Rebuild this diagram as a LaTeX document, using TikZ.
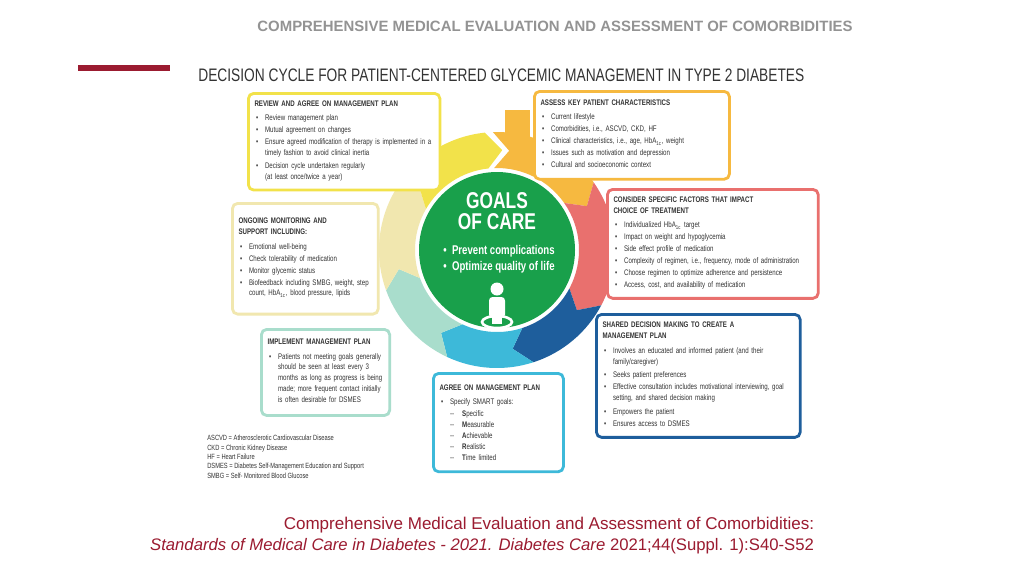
\documentclass[tikz,border=0pt]{standalone}
\usepackage{fontspec}
\setmainfont{Liberation Sans}
\newfontfamily\cond[FakeStretch=0.76]{Liberation Sans}
\definecolor{cyel}{HTML}{F2E24A}
\definecolor{corg}{HTML}{F6B940}
\definecolor{cred}{HTML}{E9706E}
\definecolor{cblu}{HTML}{1E5E9C}
\definecolor{ccya}{HTML}{3DB9D9}
\definecolor{cmin}{HTML}{A9DDCC}
\definecolor{cbei}{HTML}{F1E7AF}
\definecolor{cgrn}{HTML}{19A04B}
\definecolor{dred}{HTML}{9B1B30}
\definecolor{txt}{HTML}{333333}
\newcommand{\bi}[1]{\par\noindent\makebox[1.3em][l]{\hspace{0.2em}\textbullet}\parbox[t]{\dimexpr\linewidth-1.3em\relax}{\raggedright\strut #1\strut}\par\vspace{0.6pt}}
\newcommand{\di}[1]{\par\noindent\hspace{1.3em}\makebox[1.5em][l]{--}\textbf{#1}}
\newcommand{\seg}[3]{%
 \fill[#1] ([shift={(cc)}]#2:118) arc[start angle=#2,end angle=#3,radius=118]
  -- ([shift={(cc)}]#3+9:100) -- ([shift={(cc)}]#3:82)
  arc[start angle=#3,end angle=#2,radius=82] -- ([shift={(cc)}]#2+9:100) -- cycle;}
\begin{document}
\begin{tikzpicture}[x=0.02cm,y=-0.02cm,
  box/.style={draw=#1,line width=1.6pt,rounded corners=3pt,fill=white,anchor=north west,
    inner sep=3.5pt,align=left,font=\cond\fontsize{4.6}{6.2}\selectfont\color{txt}}]
\useasboundingbox (0,0) rectangle (1024,576);
\fill[white] (0,0) rectangle (1024,576);
\node[font=\bfseries\fontsize{8.5}{10}\selectfont,text=gray!85] (hdr) at (555,26) {COMPREHENSIVE MEDICAL EVALUATION AND ASSESSMENT OF COMORBIDITIES};
\fill[dred] (78,65) rectangle (170,71);
\node[anchor=west,font=\cond\fontsize{10.3}{12}\selectfont,text=txt,inner sep=0] (ttl) at (198,75) {DECISION CYCLE FOR PATIENT-CENTERED GLYCEMIC MANAGEMENT IN TYPE 2 DIABETES};
\coordinate (cc) at (497,250);
\fill[corg] (505,110) -- (530,110) -- (530,140) -- (505,140) -- cycle;
\seg{corg}{-92}{-35}
\seg{cred}{-35}{28}
\seg{cblu}{28}{72}
\seg{ccya}{72}{115}
\seg{cmin}{115}{160}
\seg{cbei}{160}{210}
\seg{cyel}{210}{264}
\fill[cgrn] (cc) circle (78);
\node[font=\cond\bfseries\fontsize{13}{12}\selectfont,text=white,align=center] (goals) at (497,211) {GOALS\\OF CARE};
\node[font=\cond\bfseries\fontsize{7.2}{9.2}\selectfont,text=white,align=left] (gl) at (499,259) {\textbullet\ \ Prevent complications\\\textbullet\ \ Optimize quality of life};
\fill[white] (497,289) circle (6.5);
\fill[white,rounded corners=2pt] (489,297) rectangle (505,318);
\draw[white,line width=1.5pt] (497,322) ellipse (15 and 6);
\fill[white] (492,315) rectangle (502,324);
\node[box=cyel,text width=102pt,minimum height=55pt] (rev) at (247,92) {\textbf{REVIEW AND AGREE ON MANAGEMENT PLAN}\par\vspace{2pt}
\bi{Review management plan}
\bi{Mutual agreement on changes}
\bi{Ensure agreed modification of therapy is implemented in a timely fashion to avoid clinical inertia}
\bi{Decision cycle undertaken regularly\\(at least once/twice a year)}};
\node[box=corg,text width=104pt,minimum height=50pt] (ass) at (533,90) {\textbf{ASSESS KEY PATIENT CHARACTERISTICS}\par\vspace{2pt}
\bi{Current lifestyle}
\bi{Comorbidities, i.e., ASCVD, CKD, HF}
\bi{Clinical characteristics, i.e., age, HbA\textsubscript{1c}, weight}
\bi{Issues such as motivation and depression}
\bi{Cultural and socioeconomic context}};
\node[box=cred,text width=113pt,minimum height=62pt] (con) at (606,188) {\textbf{CONSIDER SPECIFIC FACTORS THAT IMPACT\\CHOICE OF TREATMENT}\par\vspace{2pt}
\bi{Individualized HbA\textsubscript{1c} target}
\bi{Impact on weight and hypoglycemia}
\bi{Side effect profile of medication}
\bi{Complexity of regimen, i.e., frequency, mode of administration}
\bi{Choose regimen to optimize adherence and persistence}
\bi{Access, cost, and availability of medication}};
\node[box=cblu,text width=109pt,minimum height=70pt] (sha) at (595,313) {\textbf{SHARED DECISION MAKING TO CREATE A\\MANAGEMENT PLAN}\par\vspace{2pt}
\bi{Involves an educated and informed patient (and their family/caregiver)}
\bi{Seeks patient preferences}
\bi{Effective consultation includes motivational interviewing, goal setting, and shared decision making}
\bi{Empowers the patient}
\bi{Ensures access to DSMES}};
\node[box=ccya,text width=67pt,minimum height=56pt] (agr) at (432,372) {\textbf{AGREE ON MANAGEMENT PLAN}\par\vspace{2pt}
\bi{Specify SMART goals:}
\di{S}pecific
\di{M}easurable
\di{A}chievable
\di{R}ealistic
\di{T}ime limited};
\node[box=cmin,text width=66pt,minimum height=49pt] (imp) at (260,328) {\textbf{IMPLEMENT MANAGEMENT PLAN}\par\vspace{2pt}
\bi{Patients not meeting goals generally should be seen at least every 3 months as long as progress is being made; more frequent contact initially is often desirable for DSMES}};
\node[box=cbei,text width=76pt,minimum height=63pt] (ong) at (231,202) {\textbf{ONGOING MONITORING AND\\SUPPORT INCLUDING:}\par\vspace{2pt}
\bi{Emotional well-being}
\bi{Check tolerability of medication}
\bi{Monitor glycemic status}
\bi{Biofeedback including SMBG, weight, step count, HbA\textsubscript{1c}, blood pressure, lipids}};
\node[anchor=north west,inner sep=0,align=left,font=\cond\fontsize{4.3}{5.3}\selectfont,text=txt] (leg) at (207,435) {ASCVD = Atherosclerotic Cardiovascular Disease\\CKD = Chronic Kidney Disease\\HF = Heart Failure\\DSMES = Diabetes Self-Management Education and Support\\SMBG = Self- Monitored Blood Glucose};
\node[font=\fontsize{9.7}{11}\selectfont,text=dred] (cap1) at (549,525) {Comprehensive Medical Evaluation and Assessment of Comorbidities:};
\node[font=\fontsize{9.5}{11}\selectfont,text=dred] (cap2) at (482,546) {\textit{Standards of Medical Care in Diabetes - 2021. Diabetes Care} 2021;44(Suppl. 1):S40-S52};
\end{tikzpicture}
\end{document}
